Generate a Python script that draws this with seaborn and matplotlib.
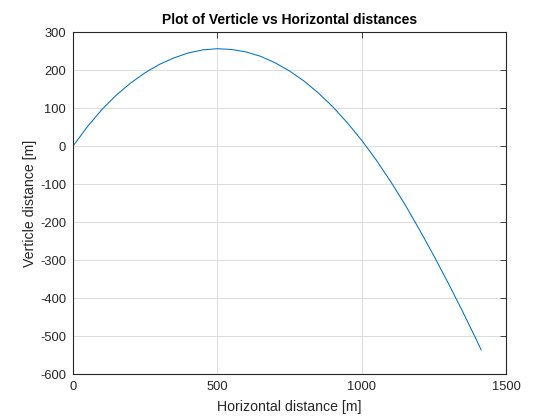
import pandas as pd
import matplotlib
matplotlib.use("Agg")
import matplotlib.pyplot as plt
import seaborn as sns

# values (projectile path)
horizontal = [0, 50, 100, 150, 200, 250, 300, 350, 400, 450, 500, 550, 600, 650,
              700, 750, 800, 850, 900, 950, 1000, 1050, 1100, 1150, 1200, 1250,
              1300, 1350, 1400, 1414]
verticle = [0, 51, 96, 134, 166, 193, 215, 232, 245, 253, 256, 254, 247.5, 236,
            219, 197.5, 171, 139.5, 103, 61.5, 15, -36.5, -93, -154, -220, -289,
            -361, -436, -514, -537]
x_ticks = [0, 500, 1000, 1500]
y_ticks = [300, 200, 100, 0, -100, -200, -300, -400, -500, -600]

df = pd.DataFrame({"x": horizontal, "y": verticle})

sns.set_style("white")
plt.rcParams["font.family"] = ["Liberation Sans", "DejaVu Sans"]
plt.rcParams["axes.unicode_minus"] = False

fig = plt.figure(figsize=(5.6, 4.2), dpi=100)
ax = fig.add_axes([0.1304, 0.1095, 0.7732, 0.8143])

sns.lineplot(data=df, x="x", y="y", sort=False, color="#0072BD", linewidth=0.75, ax=ax)

ax.set_xlim(0, 1500)
ax.set_ylim(-600, 300)
ax.set_xticks(x_ticks)
ax.set_yticks(y_ticks)
ax.grid(True, color="#dcdcdc", linewidth=0.7)
ax.set_axisbelow(True)
ax.tick_params(direction="in", top=True, right=True, length=4, width=0.6,
               colors="#262626", labelsize=9.3, pad=5)
for s in ax.spines.values():
    s.set_color("#262626")
    s.set_linewidth(0.8)

ax.set_title("Plot of Verticle vs Horizontal distances", fontsize=10,
             fontweight="bold", color="black", pad=6)
ax.set_xlabel("Horizontal distance [m]", fontsize=10.2, color="#262626", labelpad=5)
ax.set_ylabel("Verticle distance [m]", fontsize=10.2, color="#262626", labelpad=2)

fig.savefig("out.png", dpi=100)
